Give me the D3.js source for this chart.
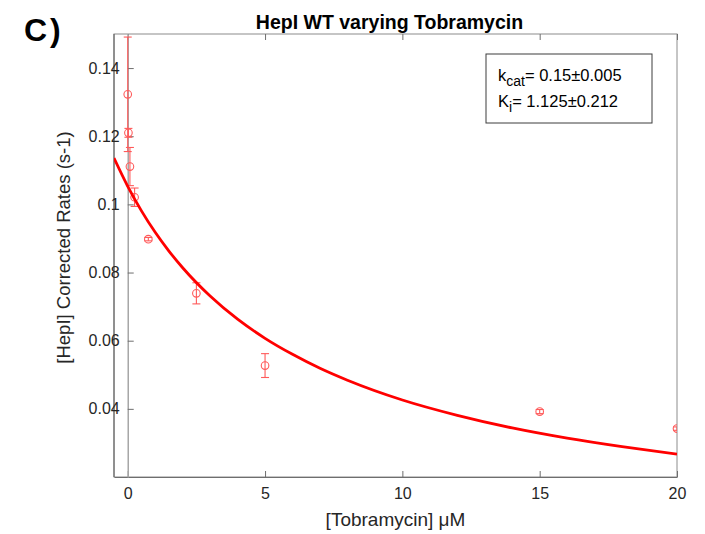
<!DOCTYPE html>
<html>
<head>
<meta charset="utf-8">
<script src="https://cdn.jsdelivr.net/npm/d3@7"></script>
<style>
body { margin: 0; background: #fff; }
text { font-family: "Liberation Sans", Arial, Helvetica, sans-serif; fill: #262626; }
</style>
</head>
<body>
<svg id="chart" width="705" height="534"></svg>
<script>
// measured points (concentration, rate, error)
const concX   = [0, 0.025, 0.08, 0.25, 0.75, 2.5, 5, 15, 20];
const rateY   = [0.1323, 0.1210, 0.1111, 0.1021, 0.0898, 0.0739, 0.0527, 0.0392, 0.0342];
const rateErr = [0.0168, 0.0013, 0.0056, 0.0027, 0.0005, 0.0031, 0.0035, 0.0006, 0.0005];

// fitted curve
const fitX = [-0.5, 0, 0.5, 1, 1.5, 2, 3, 4, 5, 6, 7, 8, 10, 12, 14, 16, 18, 20];
const fitY = [0.1136, 0.1053, 0.0981, 0.0918, 0.0863, 0.0814, 0.0731, 0.0663, 0.0607,
              0.0560, 0.0519, 0.0484, 0.0426, 0.0381, 0.0344, 0.0314, 0.0289, 0.0267];

const xTicks = [0, 5, 10, 15, 20];
const yTicks = [0.04, 0.06, 0.08, 0.1, 0.12, 0.14];
const yTickLabels = ["0.04", "0.06", "0.08", "0.1", "0.12", "0.14"];

const W = 705, H = 534;
const margin = {left: 114, top: 34, right: 28, bottom: 57};
const pw = W - margin.left - margin.right, ph = H - margin.top - margin.bottom;

const x = d3.scaleLinear().domain([-0.5, 20]).range([0, pw]);
const y = d3.scaleLinear().domain([0.02, 0.15]).range([ph, 0]);

const svg = d3.select("#chart");
const g = svg.append("g").attr("transform", `translate(${margin.left},${margin.top})`);

svg.append("defs").append("clipPath").attr("id", "clip")
  .append("rect").attr("width", pw).attr("height", ph);

// box
g.append("rect").attr("width", pw).attr("height", ph)
  .attr("fill", "none").attr("stroke", "#8c8c8c").attr("stroke-width", 1);
g.append("line").attr("x1", 0).attr("x2", 0).attr("y1", 0).attr("y2", ph)
  .attr("stroke", "#5a5a5a").attr("stroke-width", 1);

// x axis at bottom, ticks pointing in
const xAxis = g.append("g").attr("transform", `translate(0,${ph})`)
  .call(d3.axisBottom(x).tickValues(xTicks).tickFormat(d3.format("d"))
    .tickSizeInner(-6).tickSizeOuter(0).tickPadding(11));
xAxis.select(".domain").attr("stroke", "#6e6e6e");
xAxis.selectAll(".tick line").attr("stroke", "#6e6e6e");
xAxis.selectAll("text").attr("font-size", 16).style("fill", "#262626");

// top ticks
const topAxis = g.append("g")
  .call(d3.axisTop(x).tickValues(xTicks).tickFormat("")
    .tickSizeInner(-6).tickSizeOuter(0));
topAxis.select(".domain").remove();
topAxis.selectAll(".tick line").attr("stroke", "#6e6e6e");

// y axis located at x = 0
const yAxis = g.append("g").attr("transform", `translate(${x(0)},0)`)
  .call(d3.axisLeft(y).tickValues(yTicks).tickFormat((d, i) => yTickLabels[i])
    .tickSizeInner(-6).tickSizeOuter(0).tickPadding(8));
yAxis.select(".domain").attr("stroke", "#a6a6a6").attr("stroke-width", 1.5);
yAxis.selectAll(".tick line").attr("stroke", "#6e6e6e");
yAxis.selectAll("text").attr("font-size", 16).style("fill", "#262626");

const plot = g.append("g").attr("clip-path", "url(#clip)");

const pts = concX.map((c, i) => ({c: c, v: rateY[i], e: rateErr[i]}));
const red = "#ff5a5a";

// error bars
const eb = plot.selectAll("g.eb").data(pts).enter().append("g").attr("class", "eb")
  .attr("stroke", red).attr("stroke-width", 1.1);
eb.append("line")
  .attr("x1", d => x(d.c)).attr("x2", d => x(d.c))
  .attr("y1", d => y(d.v - d.e)).attr("y2", d => y(d.v + d.e));
eb.append("line")
  .attr("x1", d => x(d.c) - 4).attr("x2", d => x(d.c) + 4)
  .attr("y1", d => y(d.v - d.e)).attr("y2", d => y(d.v - d.e));
eb.append("line")
  .attr("x1", d => x(d.c) - 4).attr("x2", d => x(d.c) + 4)
  .attr("y1", d => y(d.v + d.e)).attr("y2", d => y(d.v + d.e));

// markers
plot.selectAll("circle").data(pts).enter().append("circle")
  .attr("cx", d => x(d.c)).attr("cy", d => y(d.v)).attr("r", 3.8)
  .attr("fill", "none").attr("stroke", red).attr("stroke-width", 1.1);

// fitted line
const fit = fitX.map((c, i) => [c, fitY[i]]);
plot.append("path").datum(fit)
  .attr("fill", "none").attr("stroke", "#ff0000").attr("stroke-width", 2.8)
  .attr("d", d3.line().x(d => x(d[0])).y(d => y(d[1])).curve(d3.curveMonotoneX));

// title and labels
svg.append("text").attr("x", margin.left + pw / 2 - 6).attr("y", 29)
  .attr("text-anchor", "middle").attr("font-size", 19.5).attr("font-weight", "bold")
  .style("fill", "#000").text("HepI WT varying Tobramycin");

svg.append("text").attr("x", margin.left + pw / 2).attr("y", 526)
  .attr("text-anchor", "middle").attr("font-size", 19).text("[Tobramycin] μM");

svg.append("text").attr("transform", `translate(70,${margin.top + ph / 2 - 8}) rotate(-90)`)
  .attr("text-anchor", "middle").attr("font-size", 18.5).text("[HepI] Corrected Rates (s-1)");

svg.append("text").attr("x", 24).attr("y", 41).attr("font-size", 32)
  .attr("font-weight", "bold").attr("letter-spacing", 3).style("fill", "#000").text("C)");

// parameter box
const lg = svg.append("g");
lg.append("rect").attr("x", 486).attr("y", 54).attr("width", 166).attr("height", 69)
  .attr("fill", "#fff").attr("stroke", "#3c3c3c").attr("stroke-width", 1);
const t1 = lg.append("text").attr("x", 498).attr("y", 81).attr("font-size", 16.5).style("fill", "#000");
t1.append("tspan").text("k");
t1.append("tspan").attr("dy", 5).attr("font-size", 14).text("cat");
t1.append("tspan").attr("dy", -5).text("= 0.15±0.005");
const t2 = lg.append("text").attr("x", 498).attr("y", 107).attr("font-size", 16.5).style("fill", "#000");
t2.append("tspan").text("K");
t2.append("tspan").attr("dy", 5).attr("font-size", 14).text("i");
t2.append("tspan").attr("dy", -5).text("= 1.125±0.212");
</script>
</body>
</html>
